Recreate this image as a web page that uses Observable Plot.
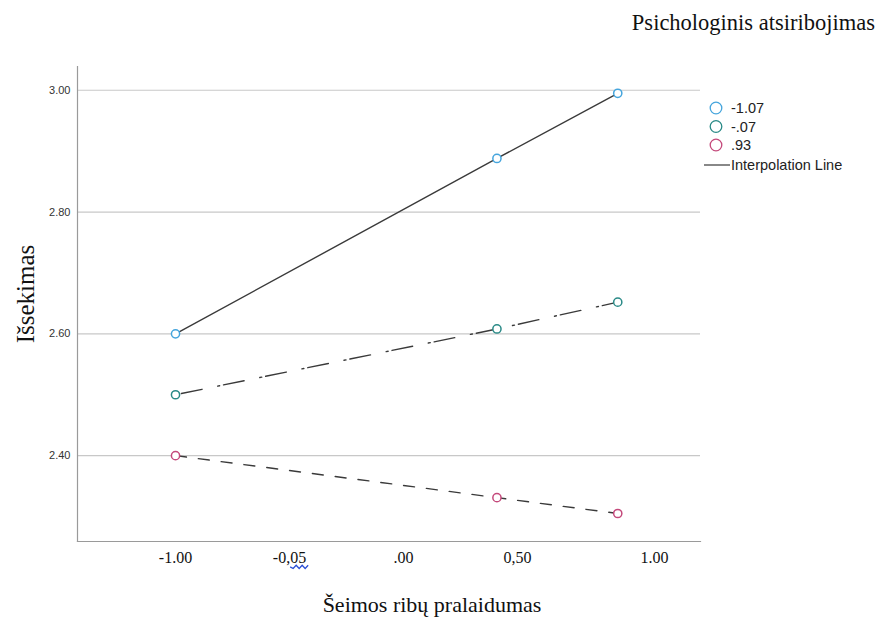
<!DOCTYPE html>
<html>
<head>
<meta charset="utf-8">
<script src="https://cdn.jsdelivr.net/npm/d3@7"></script>
<script src="https://cdn.jsdelivr.net/npm/@observablehq/plot@0.6"></script>
<style>
  body { margin: 0; background: #fff; }
  #chart svg { display: block; }
</style>
</head>
<body>
<div id="chart"></div>
<script>
// Predictor values (Šeimos ribų pralaidumas) at which the simple slopes are drawn
const xValues = [-1.00, 0.41, 0.94];
// Moderator levels (Psichologinis atsiribojimas)
const groups = ["-1.07", "-.07", ".93"];
// Predicted Išsekimas for each moderator level
const seriesLow = [2.60, 2.888, 2.995];
const seriesMid = [2.50, 2.608, 2.652];
const seriesHigh = [2.40, 2.331, 2.305];
// Axis ticks
const yTicks = [2.40, 2.60, 2.80, 3.00];
const xTickValues = [-1.00, -0.50, 0.00, 0.50];
const xTickLabels = ["-1.00", "-0,05", ".00", "0,50"];
const xLastTickValue = [1.00];
const xLastTickLabel = ["1.00"];

const colors = ["#45a5dd", "#2a8a87", "#c4497b"];
const dashes = [null, "2,4,21,16", "11,12"];

const seriesValues = [seriesLow, seriesMid, seriesHigh];
const rows = groups.flatMap((g, i) =>
  xValues.map((x, j) => ({ group: g, x, y: seriesValues[i][j] }))
);

const W = 879, H = 619;
const serif = "'Liberation Serif', 'Times New Roman', serif";
const sans = "'Liberation Sans', Arial, sans-serif";

const lineMarks = groups.map((g, i) =>
  Plot.line(rows.filter(d => d.group === g), {
    x: "x", y: "y", stroke: "#3a3a3a", strokeWidth: 1.4,
    strokeDasharray: dashes[i] ?? undefined
  })
);

const plot = Plot.plot({
  width: W,
  height: H,
  marginLeft: 77,
  marginRight: 179,
  marginTop: 66,
  marginBottom: 78,
  style: { background: "#fff", overflow: "visible" },
  x: { domain: [-1.430, 1.303], axis: null, label: null },
  y: { domain: [2.259, 3.039], axis: null, label: null },
  color: { domain: groups, range: colors },
  marks: [
    Plot.ruleY(yTicks, { stroke: "#c8c8c8", strokeWidth: 1.2 }),
    Plot.frame({ anchor: "left", stroke: "#9a9a9a", strokeWidth: 1.2 }),
    Plot.frame({ anchor: "bottom", stroke: "#9a9a9a", strokeWidth: 1.2 }),
    Plot.axisY(yTicks, {
      label: null, tickSize: 0, tickPadding: 7, tickFormat: d3.format(".2f"),
      fontSize: 11, fontFamily: sans, fill: "#333"
    }),
    Plot.axisX(xTickValues, {
      label: null, tickSize: 0, tickPadding: 10, tickFormat: (d, i) => xTickLabels[i],
      fontSize: 16, fontFamily: serif, fill: "#111"
    }),
    Plot.axisX(xLastTickValue, {
      label: null, tickSize: 0, tickPadding: 10, dx: 23, tickFormat: (d, i) => xLastTickLabel[i],
      fontSize: 16, fontFamily: serif, fill: "#111"
    }),
    ...lineMarks,
    Plot.dot(rows, {
      x: "x", y: "y", stroke: "group", fill: "#fff", r: 4.1, strokeWidth: 1.5
    })
  ]
});

document.getElementById("chart").appendChild(plot);
const svg = d3.select(plot);

// Chart title (moderator name) at the top right
svg.append("text")
  .attr("x", 875).attr("y", 30)
  .attr("text-anchor", "end")
  .attr("font-family", serif).attr("font-size", 22.5).attr("fill", "#111")
  .text("Psichologinis atsiribojimas");

// Y axis title
svg.append("text")
  .attr("transform", "translate(34,294) rotate(-90)")
  .attr("text-anchor", "middle")
  .attr("font-family", serif).attr("font-size", 25).attr("fill", "#111")
  .text("Išsekimas");

// X axis title
svg.append("text")
  .attr("x", 432).attr("y", 612)
  .attr("text-anchor", "middle")
  .attr("font-family", serif).attr("font-size", 22).attr("fill", "#111")
  .text("Šeimos ribų pralaidumas");

// Legend
const legend = svg.append("g")
  .attr("font-family", sans).attr("font-size", 14.5).attr("fill", "#222")
  .attr("text-anchor", "start");
groups.forEach((g, i) => {
  const y = 108 + i * 18.5;
  legend.append("circle").attr("cx", 716).attr("cy", y).attr("r", 5.8)
    .attr("fill", "#fff").attr("stroke", colors[i]).attr("stroke-width", 1.3);
  legend.append("text").attr("x", 731).attr("y", y).attr("dy", "0.36em").text(g);
});
legend.append("line").attr("x1", 704).attr("x2", 730).attr("y1", 165).attr("y2", 165)
  .attr("stroke", "#3a3a3a").attr("stroke-width", 1.2);
legend.append("text").attr("x", 731).attr("y", 165).attr("dy", "0.36em").text("Interpolation Line");

// Spell-check squiggle under the typed "05"
svg.selectAll("text").each(function () {
  const t = d3.select(this);
  if (t.text() !== "-0,05") return;
  t.text("");
  t.append("tspan").text("-0,");
  const part = t.append("tspan").text("05");
  const n = part.node();
  const x0 = n.getStartPositionOfChar(0).x;
  const x1 = n.getEndPositionOfChar(1).x;
  const base = n.getStartPositionOfChar(0).y;
  const g = d3.select(this.parentNode);
  const tr = this.getAttribute("transform");
  const amp = 1.6, step = 3;
  let dPath = `M${x0},${base + 4}`;
  for (let x = x0, k = 0; x < x1 + 2; x += step, k++) {
    dPath += ` L${x + step},${base + 4 + (k % 2 ? -amp : amp)}`;
  }
  g.append("path").attr("d", dPath).attr("transform", tr)
    .attr("fill", "none").attr("stroke", "#2b4fd6").attr("stroke-width", 1.3);
});
</script>
</body>
</html>
